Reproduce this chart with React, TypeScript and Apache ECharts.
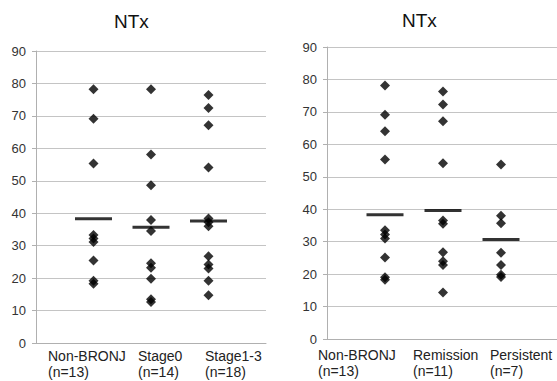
import React, { useEffect, useRef } from 'react';
import * as echarts from 'echarts';

const chartTitles = ['NTx', 'NTx'];
const yMin = 0;
const yMax = 90;
const yStep = 10;

const leftCategories = ['Non-BRONJ', 'Stage0', 'Stage1-3'];
const leftCounts = ['(n=13)', '(n=14)', '(n=18)'];
const leftNonBronj = [78.2, 69.1, 55.3, 33.3, 32.2, 31.1, 25.4, 19.2, 18.3];
const leftStage0 = [78.2, 58.1, 48.6, 37.9, 34.5, 24.6, 23.2, 19.8, 13.5, 12.6];
const leftStage13 = [76.4, 72.4, 67.1, 54.1, 38.4, 37.2, 36.0, 26.7, 24.2, 23.0, 19.2, 14.7];
const leftMeans = [38.3, 35.7, 37.6];

const rightCategories = ['Non-BRONJ', 'Remission', 'Persistent'];
const rightCounts = ['(n=13)', '(n=11)', '(n=7)'];
const rightNonBronj = [78.1, 69.1, 64.0, 55.3, 33.5, 32.2, 31.0, 25.1, 19.0, 18.3];
const rightRemission = [76.3, 72.3, 67.1, 54.2, 36.5, 35.5, 26.7, 24.0, 22.8, 14.3];
const rightPersistent = [53.8, 38.0, 35.7, 26.6, 22.8, 19.8, 19.1];
const rightMeans = [38.3, 39.6, 30.7];

const FONT = '"Liberation Sans", Arial, Helvetica, sans-serif';

function toPoints(groups: number[][]) {
  const out: number[][] = [];
  groups.forEach((vals, i) => vals.forEach((v) => out.push([i + 1, v])));
  return out;
}

function labelFormatter(cats: string[], counts: string[]) {
  return (v: number) => {
    const r = Math.round(v);
    if (Math.abs(v - r) > 1e-6 || r < 1 || r > cats.length) return '';
    const k = 'k' + (r - 1);
    return `{${k}|${cats[r - 1]}}\n{${k}|${counts[r - 1]}}`;
  };
}

function richFor(pads: number[][]) {
  const rich: any = {};
  pads.forEach((p, i) => {
    rich['k' + i] = {
      width: 80,
      align: 'left',
      padding: [0, p[1], 0, p[0]],
      fontSize: 14,
      lineHeight: 16,
      color: '#222',
      fontFamily: FONT,
    };
  });
  return rich;
}

export default function App() {
  const ref = useRef<HTMLDivElement>(null);
  useEffect(() => {
    document.body.style.margin = '0';
    if (!ref.current) return;
    const chart = echarts.init(ref.current, undefined, { renderer: 'svg' });
    const gridColor = '#c4c4c4';
    const axisColor = '#b0b0b0';
    const yAxisBase = {
      type: 'value',
      min: yMin,
      max: yMax,
      interval: yStep,
      axisLine: { show: true, lineStyle: { color: axisColor, width: 1 } },
      axisTick: { show: true, length: 4, lineStyle: { color: axisColor } },
      axisLabel: { fontSize: 13, color: '#333', margin: 10, fontFamily: FONT },
      splitLine: { show: true, lineStyle: { color: gridColor, width: 1 } },
    };
    const xAxisBase = {
      type: 'value',
      min: 0,
      max: 4,
      interval: 1,
      axisLine: { show: true, lineStyle: { color: axisColor, width: 1 } },
      axisTick: { show: false },
      splitLine: { show: false },
    };
    const pointStyle = { color: '#000' };
    const titleStyle = { fontSize: 19, fontWeight: 'normal', color: '#111', fontFamily: FONT };
    chart.setOption({
      animation: false,
      backgroundColor: '#fff',
      title: [
        { text: chartTitles[0], left: 114, top: 12, padding: 0, textStyle: titleStyle },
        { text: chartTitles[1], left: 402, top: 11, padding: 0, textStyle: titleStyle },
      ],
      grid: [
        { left: 36, top: 51, width: 230, height: 292, outerBoundsMode: 'none', containLabel: false },
        { left: 327, top: 47, width: 232, height: 292, outerBoundsMode: 'none', containLabel: false },
      ],
      xAxis: [
        {
          ...xAxisBase,
          gridIndex: 0,
          axisLabel: {
            margin: 5,
            align: 'center',
            formatter: labelFormatter(leftCategories, leftCounts),
            rich: richFor([[0, 11], [54, 0], [73, 0]]),
          },
        },
        {
          ...xAxisBase,
          gridIndex: 1,
          axisLabel: {
            margin: 8,
            align: 'center',
            formatter: labelFormatter(rightCategories, rightCounts),
            rich: richFor([[0, 54], [20, 0], [58, 0]]),
          },
        },
      ],
      yAxis: [
        { ...yAxisBase, gridIndex: 0 },
        { ...yAxisBase, gridIndex: 1 },
      ],
      series: [
        {
          type: 'scatter',
          xAxisIndex: 0,
          yAxisIndex: 0,
          symbol: 'diamond',
          symbolSize: 10,
          itemStyle: pointStyle,
          data: toPoints([leftNonBronj, leftStage0, leftStage13]),
        },
        {
          type: 'scatter',
          xAxisIndex: 0,
          yAxisIndex: 0,
          symbol: 'rect',
          symbolSize: [37, 3],
          itemStyle: pointStyle,
          z: 5,
          data: leftMeans.map((m, i) => [i + 1, m]),
        },
        {
          type: 'scatter',
          xAxisIndex: 1,
          yAxisIndex: 1,
          symbol: 'diamond',
          symbolSize: 10,
          itemStyle: pointStyle,
          data: toPoints([rightNonBronj, rightRemission, rightPersistent]),
        },
        {
          type: 'scatter',
          xAxisIndex: 1,
          yAxisIndex: 1,
          symbol: 'rect',
          symbolSize: [37, 3],
          itemStyle: pointStyle,
          z: 5,
          data: rightMeans.map((m, i) => [i + 1, m]),
        },
      ],
    });
    return () => chart.dispose();
  }, []);
  return <div ref={ref} style={{ width: 557, height: 381 }} />;
}
